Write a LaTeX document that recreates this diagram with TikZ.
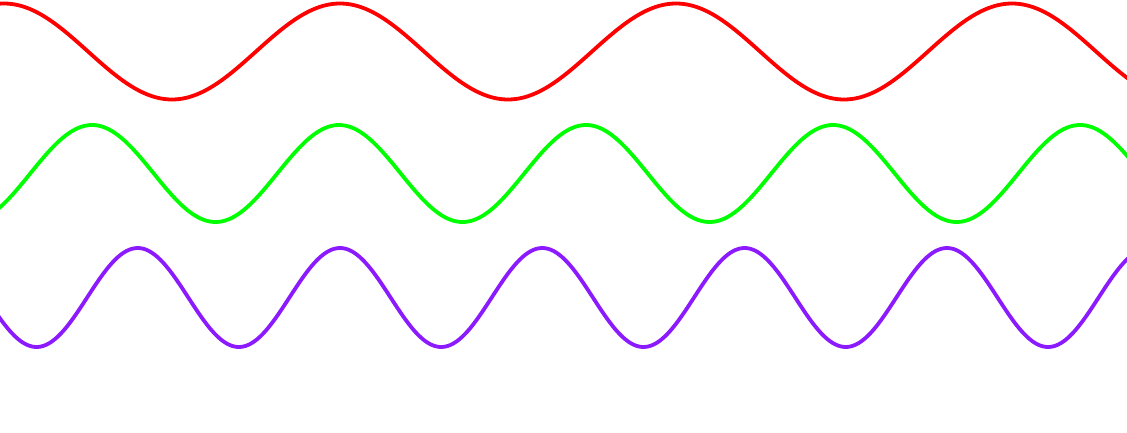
\documentclass[tikz,border=0pt]{standalone}
\definecolor{wred}{RGB}{255,0,0}
\definecolor{wgreen}{RGB}{0,255,0}
\definecolor{wviolet}{RGB}{140,26,255}
\tikzset{wave/.style={line width=3.8pt, smooth, line join=round}}
\begin{document}
\begin{tikzpicture}[x=1pt,y=-1pt]
\useasboundingbox (0,0) rectangle (1127,433);
\clip (0,0) rectangle (1127,433);
\draw[wave, wred] plot[domain=-5:1132, samples=400] (\x, {51.5 - 48*cos((\x-340)/336*360)});
\draw[wave, wgreen] plot[domain=-5:1132, samples=400] (\x, {173.5 - 48.5*cos((\x-339)/247*360)});
\draw[wave, wviolet] plot[domain=-5:1132, samples=400] (\x, {297.5 - 49.5*cos((\x-340)/202.3*360)});
\end{tikzpicture}
\end{document}
